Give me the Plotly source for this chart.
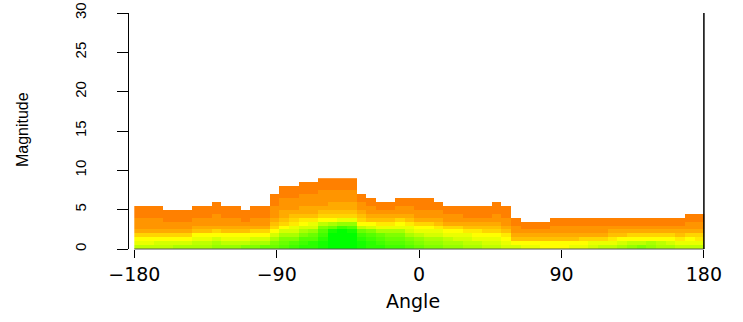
import numpy as np
import plotly.graph_objects as go

# Angle bins: 59 equal bins spanning the full circle
angle_edges = np.linspace(-180, 180, 60)
# Magnitude bins of 0.5
mag_step = 0.5

# Upper magnitude reached in each angle bin
magnitude_top = [
    5.5, 5.5, 5.5, 5, 5, 5, 5.5, 5.5, 6, 5.5,
    5.5, 5, 5.5, 5.5, 7, 8, 8, 8.5, 8.5, 9,
    9, 9, 9, 7, 6.5, 6, 6, 6.5, 6.5, 6.5,
    6.5, 6, 5.5, 5.5, 5.5, 5.5, 5.5, 6, 5.5, 4,
    3.5, 3.5, 3.5, 4, 4, 4, 4, 4, 4, 4,
    4, 4, 4, 4, 4, 4, 4, 4.5, 4.5,
]

# Cell colour per angle bin, listed from the lowest magnitude upward.
# Letter code: a = 30 deg hue (orange) ... s = 120 deg hue (green), 5 deg steps
hue_code = "abcdefghijklmnopqrs"
hue_columns = [
    "jhgecbbbaaa", "jhgecbbbaaa", "jigecbbbaaa", "jigecbbaaa", "kigecbbaaa",
    "kigecbbaaa", "kjhgdcbbaaa", "kjhgdcbbaaa", "lkigecbbbaaa", "ljhgdcbbaaa",
    "ljhgdcbbaaa", "mjhgdcbaaa", "mkigecbbaaa", "nkigecbbaaa", "nmkigedcbbbaaa",
    "onmkigedccbbbaaa", "pomkihfedcbbbaaa", "qpomkigfdccbbbaaa", "qqonlihfdccbbbaaa",
    "rrqpomjgedcbbbbaaa",
    "ssssrnkgedccbbbaaa", "sssssplhedccbbbaaa", "ssssrolhedccbbbaaa", "rrqpnjgedcbbaa",
    "qqpomigdcbbaa", "qponkhfdcbaa", "ponmkhfdcbaa", "ponmkhgecbbaa", "onmkihfdcbbaa",
    "nmljhgecbbaaa",
    "mlkihgecbbaaa", "mlkihfdcbbaa", "lkjhgecbbaa", "lkihgecbbaa", "kjihfdcbaaa",
    "kjhgfdcbaaa", "jihgedcbaaa", "jihgedcbbaaa", "ihgfdcbbaaa", "igdcbbaa",
    "hgdcbaa", "hgdcbaa", "ggdcbaa", "ggdcbbaa", "ggdcbbaa",
    "hgdcbbaa", "hgecbbaa", "ihecbbaa", "jhecbbaa", "jhfdcbaa",
    "kigdcbaa", "ljgecbaa", "mjgecbaa", "lkgecbaa", "kjgecbaa",
    "kigecbaa", "jhfdcbaa", "jhgecbbaa", "jhfecbbaa",
]

x_ticks = [-180, -90, 0, 90, 180]
x_tick_text = ["\u2212180", "\u221290", "0", "90", "180"]
y_ticks = [0, 5, 10, 15, 20, 25, 30]

n_rows = int(round(max(magnitude_top) / mag_step))
mag_edges = np.arange(n_rows + 1) * mag_step

z = [[None] * len(hue_columns) for _ in range(n_rows)]
for j, (col, top) in enumerate(zip(hue_columns, magnitude_top)):
    assert len(col) == int(round(top / mag_step))
    for i, ch in enumerate(col):
        z[i][j] = 30 + 5 * hue_code.index(ch)

fig = go.Figure(
    go.Heatmap(
        x=angle_edges,
        y=mag_edges,
        z=z,
        zmin=30,
        zmax=120,
        colorscale=[[0, "#FF8000"], [1 / 3, "#FFFF00"], [1, "#00FF00"]],
        showscale=False,
        hoverongaps=False,
    )
)

axis_font = dict(family="Liberation Sans", size=15, color="black")

fig.update_layout(
    width=743,
    height=322,
    margin=dict(l=129, r=37, t=13, b=73, autoexpand=False),
    paper_bgcolor="white",
    plot_bgcolor="white",
    showlegend=False,
    xaxis=dict(
        range=[-183.35, 181.33],
        tickvals=x_ticks,
        ticktext=x_tick_text,
        ticks="outside",
        ticklen=8,
        tickwidth=1,
        tickcolor="black",
        showline=False,
        showgrid=False,
        zeroline=False,
        automargin=False,
        tickfont=dict(family="DejaVu Sans", size=19, color="black"),
    ),
    yaxis=dict(
        range=[0, 30],
        tickvals=y_ticks,
        ticks="outside",
        ticklen=11,
        tickwidth=1,
        tickcolor="black",
        showline=True,
        linecolor="black",
        linewidth=1,
        showgrid=False,
        zeroline=False,
        automargin=False,
        tickangle=-90,
        tickfont=axis_font,
        ticklabelstandoff=25,
    ),
    shapes=[
        dict(type="line", xref="x", yref="paper", x0=-180, x1=180, y0=0, y1=0,
             line=dict(color="#555555", width=1), layer="above"),
        dict(type="line", xref="x", yref="y", x0=180, x1=180, y0=0, y1=30,
             line=dict(color="black", width=1.5), layer="above"),
    ],
    annotations=[
        dict(text="Angle", xref="paper", yref="paper", x=0.492, y=-0.2203,
             xanchor="center", yanchor="middle", showarrow=False,
             font=dict(family="DejaVu Sans", size=19, color="black")),
        dict(text="Magnitude", xref="paper", yref="paper", x=-0.1854, y=0.504,
             xanchor="center", yanchor="middle", showarrow=False, textangle=-90,
             font=dict(family="Liberation Sans", size=16, color="black")),
    ],
)

fig.write_html("out.html")
